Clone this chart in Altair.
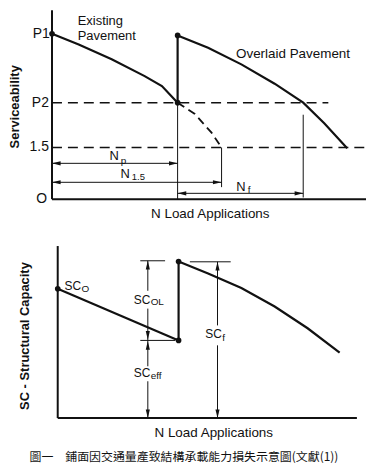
import altair as alt
import pandas as pd

INK = "#111111"
FONT = "Liberation Sans"
CJK = "Noto Sans CJK TC"
ARROW = "M0,0L-1,-0.24L-1,0.24Z"

# ---------------- top panel: serviceability vs N ----------------
existing_x = [0, 8.5, 19, 29.5, 35, 40]
existing_y = [4.8, 4.49, 4.06, 3.57, 3.28, 2.8]
extrap_x = [40, 45.5, 50.8, 54]
extrap_y = [2.8, 2.47, 1.93, 1.5]
overlaid_x = [40, 49.7, 60.3, 70.9, 80, 86.7, 94]
overlaid_y = [4.75, 4.39, 3.91, 3.35, 2.8, 2.2, 1.48]
p_levels = [4.8, 2.8, 1.5, 0]
p_labels = ["P1", "P2", "1.5", "O"]
n_p, n_15, n_f_end = 40, 54, 80

# ---------------- bottom panel: structural capacity ----------------
sc0_x = [0, 38.5]
sc0_y = [5.0, 3.0]
scf_x = [38.5, 47.9, 58.5, 69.1, 79.6, 89.8]
scf_y = [6.05, 5.59, 5.03, 4.31, 3.47, 2.53]

caption = "圖一　鋪面因交通量產致結構承載能力損失示意圖(文獻(1))"

W = 359
H_TOP, H_BOT = 212, 244
XD_TOP = [-13.7, 100]
YD_TOP = [-0.635, 5.48]
XD_BOT = [-15.52, 98.2]
YD_BOT = [-1.769, 7.615]


def scales(xd, yd):
    sx = alt.Scale(domain=xd, nice=False, zero=False)
    sy = alt.Scale(domain=yd, nice=False, zero=False)
    return (lambda f="x": alt.X(f"{f}:Q", scale=sx, axis=None),
            lambda f="y": alt.Y(f"{f}:Q", scale=sy, axis=None))


def segs(rows, X, Y, width=1.0, dash=None):
    df = pd.DataFrame(rows, columns=["x", "y", "x2", "y2"])
    kw = dict(color=INK, strokeWidth=width)
    if dash:
        kw["strokeDash"] = dash
    return alt.Chart(df).mark_rule(**kw).encode(
        x=X(), y=Y(), x2=alt.X2("x2:Q"), y2=alt.Y2("y2:Q"))


def curve(xs, ys, X, Y, width=2.0, dash=None):
    df = pd.DataFrame({"x": xs, "y": ys, "i": list(range(len(xs)))})
    kw = dict(color=INK, strokeWidth=width)
    if dash:
        kw["strokeDash"] = dash
    return alt.Chart(df).mark_line(**kw).encode(x=X(), y=Y(), order="i:Q")


def heads(rows, X, Y):
    df = pd.DataFrame(rows, columns=["x", "y", "a"])
    return alt.Chart(df).mark_point(shape=ARROW, filled=True, size=300, color=INK,
                                    opacity=1, strokeWidth=0).encode(
        x=X(), y=Y(), angle=alt.Angle("a:Q", scale=None))


def dots(rows, X, Y):
    df = pd.DataFrame(rows, columns=["x", "y"])
    return alt.Chart(df).mark_circle(size=32, color=INK, opacity=1).encode(x=X(), y=Y())


def texts(rows, X, Y, align="left", font=FONT, weight="normal", angle=0):
    df = pd.DataFrame(rows, columns=["x", "y", "t", "s"])
    return alt.Chart(df).mark_text(align=align, baseline="middle", font=font, color=INK,
                                   fontWeight=weight, angle=angle).encode(
        x=X(), y=Y(), text="t:N", size=alt.Size("s:Q", scale=None))


# ---------- top ----------
X, Y = scales(XD_TOP, YD_TOP)
top = alt.layer(
    segs([(0, 0, 0, 5.48), (0, 0, 100, 0)], X, Y, 2.0),
    segs([(0, p_levels[1], 88, p_levels[1]), (0, p_levels[2], 99.5, p_levels[2])], X, Y, 1.5, [10, 6]),
    segs([(n_p, p_levels[1], n_p, 0), (n_15, p_levels[2], n_15, 0.35), (n_f_end, 2.45, n_f_end, 0.05)], X, Y, 1.0),
    segs([(0, 1.04, n_p, 1.04), (0, 0.49, n_15, 0.49), (n_p, 0.17, n_f_end, 0.17)], X, Y, 1.0),
    heads([(0, 1.04, 180), (n_p, 1.04, 0), (0, 0.49, 180), (n_15, 0.49, 0),
           (n_p, 0.17, 180), (n_f_end, 0.17, 0)], X, Y),
    curve(existing_x, existing_y, X, Y, 2.2),
    curve(extrap_x, extrap_y, X, Y, 1.8, [8, 5]),
    segs([(n_p, p_levels[1], n_p, overlaid_y[0])], X, Y, 2.2),
    curve(overlaid_x, overlaid_y, X, Y, 2.2),
    dots([(0, p_levels[0]), (n_p, p_levels[1]), (n_p, overlaid_y[0])], X, Y),
    texts([(-0.7, p_levels[0], p_labels[0], 14), (-1.0, p_levels[1], p_labels[1], 14),
           (-1.0, p_levels[2], p_labels[2], 14), (-1.6, p_levels[3], p_labels[3], 14)], X, Y, "right"),
    texts([(8.2, 5.16, "Existing", 13), (8.2, 4.72, "Pavement", 13),
           (58.6, 4.21, "Overlaid Pavement", 13.5),
           (18.3, 1.24, "N", 13), (21.9, 1.12, "p", 10),
           (21.8, 0.735, "N", 13), (25.4, 0.63, "1.5", 9.5),
           (58.7, 0.346, "N", 13), (62.3, 0.27, "f", 10)], X, Y, "left"),
    texts([(50.4, -0.43, "N Load Applications", 13.5)], X, Y, "center"),
    texts([(-11.8, 2.68, "Serviceability", 13)], X, Y, "center", weight="bold", angle=270),
).properties(width=W, height=H_TOP)

# ---------- bottom ----------
X, Y = scales(XD_BOT, YD_BOT)
ax = 28.7   # x of SC_OL / SC_eff dimension line
fx = 50.9   # x of SC_f dimension line
bottom = alt.layer(
    segs([(0, 0, 0, 6.65), (0, 0, 95.3, 0)], X, Y, 2.0),
    segs([(26.3, 6.08, 34.2, 6.08), (26.3, 3.0, 37.4, 3.0), (42.1, 6.04, 55.1, 6.04)], X, Y, 1.0),
    segs([(ax, 6.08, ax, 4.92), (ax, 4.23, ax, 3.0), (ax, 3.0, ax, 2.0), (ax, 1.42, ax, 0),
          (fx, 6.04, fx, 3.58), (fx, 2.81, fx, 0)], X, Y, 1.0),
    heads([(ax, 6.08, 270), (ax, 3.03, 90), (ax, 2.97, 270), (ax, 0, 90),
           (fx, 6.04, 270), (fx, 0, 90)], X, Y),
    curve(sc0_x, sc0_y, X, Y, 2.2),
    segs([(sc0_x[1], sc0_y[1], sc0_x[1], scf_y[0])], X, Y, 2.2),
    curve(scf_x, scf_y, X, Y, 2.2),
    dots([(sc0_x[0], sc0_y[0]), (sc0_x[1], sc0_y[1]), (scf_x[0], scf_y[0])], X, Y),
    texts([(2.2, 5.12, "SC", 12), (7.6, 4.98, "O", 10),
           (24.2, 4.58, "SC", 12), (29.6, 4.48, "OL", 10),
           (24.2, 1.75, "SC", 12), (29.6, 1.63, "eff", 10),
           (47.0, 3.23, "SC", 12), (52.4, 3.08, "f", 10)], X, Y, "left"),
    texts([(49.7, -0.58, "N Load Applications", 13.5)], X, Y, "center"),
    texts([(-10.45, 3.17, "SC - Structural Capacity", 13)], X, Y, "center", weight="bold", angle=270),
    texts([(40.2, -1.52, caption, 12)], X, Y, "center", font=CJK),
).properties(width=W, height=H_BOT)

chart = alt.vconcat(top, bottom, spacing=0).properties(padding=0).configure_view(stroke=None)
chart.save("out.html", embed_options={"renderer": "svg", "actions": False})
